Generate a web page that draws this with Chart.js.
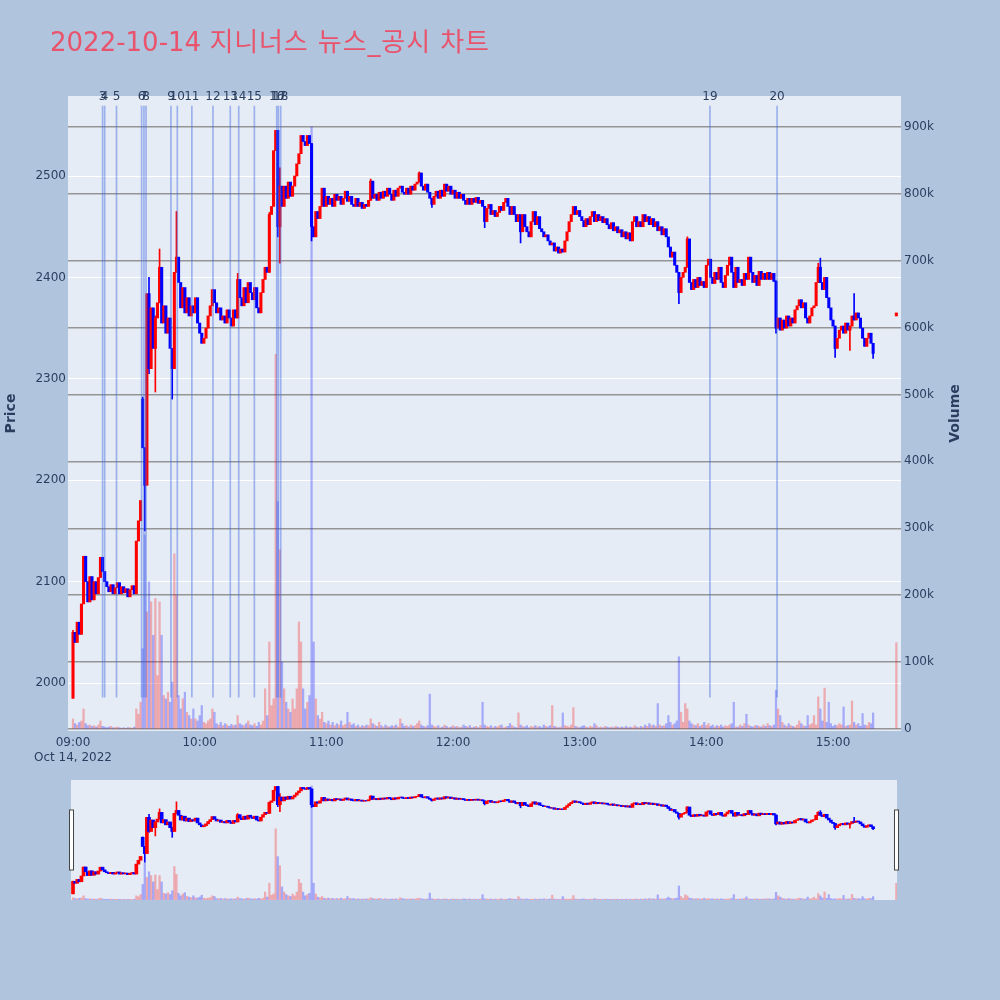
<!DOCTYPE html>
<html>
<head>
<meta charset="utf-8">
<script src="https://cdn.jsdelivr.net/npm/chart.js@4.4.1/dist/chart.umd.min.js"></script>
<style>
  html, body { margin: 0; padding: 0; background: #b0c4de; }
  #wrap { position: relative; width: 1000px; height: 1000px; overflow: hidden; }
  #mainChart { position: absolute; left: 0; top: 0; }
  #sliderChart { position: absolute; left: 0; top: 776px; }
  #title {
    position: absolute; left: 50px; top: 29px;
    font: 26px/26px "DejaVu Sans", "Noto Sans CJK KR", sans-serif;
    color: #e9536b; white-space: nowrap;
  }
  #title span { letter-spacing: 0.9px; }
</style>
</head>
<body>
<div id="wrap">
  <canvas id="mainChart" width="1000" height="770"></canvas>
  <canvas id="sliderChart" width="1000" height="130"></canvas>
  <div id="title">2022-10-14 <span>지니너스 뉴스_공시 차트</span></div>
</div>
<script>

// one candle per minute, index = minutes after 09:00
const firstOpen = 1985;

const closes = [
  2050, 2040, 2060, 2048, 2078, 2125, 2100, 2080, 2105, 2082,
  2100, 2088, 2104, 2124, 2110, 2100, 2095, 2090, 2097, 2088,
  2094, 2099, 2088, 2095, 2089, 2093, 2085, 2092, 2096, 2088,
  2140, 2160, 2180, 2232, 2195, 2384, 2310, 2370, 2330, 2360,
  2375, 2410, 2355, 2372, 2345, 2360, 2330, 2310, 2405, 2420,
  2395, 2370, 2390, 2365, 2380, 2362, 2372, 2365, 2380, 2355,
  2345, 2335, 2340, 2350, 2362, 2372, 2388, 2375, 2365, 2370,
  2358, 2362, 2355, 2368, 2360, 2352, 2368, 2360, 2398, 2380,
  2372, 2390, 2375, 2395, 2385, 2378, 2390, 2370, 2365, 2385,
  2398, 2410, 2405, 2462, 2470, 2525, 2545, 2450, 2490, 2470,
  2490, 2478, 2494, 2480, 2490, 2500, 2512, 2522, 2540, 2534,
  2530, 2540, 2532, 2450, 2440, 2465, 2458, 2470, 2488, 2470,
  2480, 2472, 2478, 2470, 2482, 2476, 2480, 2472, 2478, 2485,
  2475, 2480, 2472, 2470, 2478, 2470, 2474, 2468, 2472, 2470,
  2476, 2495, 2478, 2482, 2476, 2484, 2478, 2485, 2480, 2488,
  2482, 2476, 2486, 2480, 2488, 2490, 2484, 2482, 2488, 2482,
  2490, 2486, 2492, 2494, 2503, 2490, 2486, 2492, 2484, 2478,
  2472, 2480, 2485, 2478, 2486, 2480, 2492, 2485, 2490, 2482,
  2486, 2478, 2484, 2478, 2482, 2476, 2472, 2478, 2472, 2478,
  2474, 2479, 2473, 2476, 2470, 2455, 2468, 2472, 2462, 2466,
  2460, 2464, 2470, 2466, 2474, 2478, 2470, 2462, 2470, 2462,
  2455, 2462, 2445, 2462, 2450, 2445, 2440, 2455, 2465, 2452,
  2460, 2448, 2445, 2440, 2442, 2436, 2432, 2434, 2426, 2430,
  2424, 2428, 2425, 2436, 2445, 2455, 2462, 2470, 2462, 2466,
  2460, 2456, 2450, 2458, 2452, 2460, 2465, 2455, 2462, 2456,
  2460, 2454, 2458, 2452, 2448, 2454, 2446, 2450, 2444, 2447,
  2440, 2445, 2438, 2444, 2436, 2455, 2460, 2450, 2455, 2450,
  2462, 2455, 2460, 2452, 2458, 2450, 2455, 2446, 2450, 2442,
  2448, 2440, 2430, 2420, 2425, 2412, 2405, 2385, 2400, 2405,
  2410, 2438, 2395, 2388, 2398, 2390, 2400, 2392, 2396, 2390,
  2412, 2418, 2400, 2394, 2405, 2398, 2410, 2395, 2390, 2402,
  2412, 2420, 2405, 2390, 2410, 2395, 2398, 2392, 2404, 2398,
  2420, 2405, 2395, 2402, 2392, 2406, 2398, 2404, 2398, 2405,
  2398, 2404, 2396, 2350, 2360, 2348, 2358, 2350, 2362, 2352,
  2360, 2355, 2368, 2372, 2378, 2370, 2375, 2360, 2355, 2362,
  2370, 2372, 2395, 2410, 2395, 2388, 2400, 2380, 2370, 2358,
  2352, 2330, 2340, 2348, 2352, 2345, 2355, 2348, 2352, 2362,
  2358, 2365, 2360, 2350, 2340, 2332, 2340, 2345, 2335, 2325
];

// [minute, open] where the candle did not open at the previous close
const openGaps = [[33, 2280]];

// [minute, low, high] for candles with visible shadows
const wicks = [
  [0, 1985, 2052], [33, 2232, 2282], [34, 2150, 2232], [36, 2305, 2400],
  [39, 2287, 2362], [41, 2375, 2428], [47, 2280, 2330], [49, 2405, 2465],
  [78, 2360, 2404], [93, 2405, 2464], [97, 2440, 2545], [98, 2414, 2508],
  [113, 2436, 2532], [141, 2476, 2497], [164, 2494, 2504], [170, 2469, 2478],
  [195, 2449, 2470], [212, 2434, 2455], [287, 2374, 2405], [291, 2410, 2440],
  [333, 2345, 2397], [353, 2395, 2414], [354, 2395, 2419], [361, 2321, 2352],
  [368, 2328, 2352], [370, 2358, 2384], [379, 2320, 2335]
];

// volume in thousands of shares, same minutes as closes
const volumesK = [
  15, 8, 6, 10, 12, 30, 8, 5, 6, 4,
  5, 3, 6, 12, 4, 3, 2, 3, 4, 2,
  2, 3, 2, 1, 2, 1, 2, 2, 1, 3,
  30, 22, 40, 120, 290, 175, 220, 190, 140, 195,
  80, 190, 140, 50, 45, 55, 40, 70, 262, 200,
  50, 30, 45, 55, 25, 20, 15, 30, 15, 12,
  20, 35, 10, 8, 12, 15, 30, 25, 8, 6,
  10, 5, 8, 6, 4, 7, 5, 6, 20, 8,
  6, 5, 8, 12, 6, 5, 8, 4, 10, 6,
  12, 60, 20, 130, 35, 45, 560, 340, 268, 100,
  60, 40, 30, 25, 45, 30, 60, 160, 130, 60,
  30, 40, 50, 900, 130, 45, 20, 15, 25, 10,
  8, 12, 6, 10, 5, 8, 6, 12, 5, 7,
  25, 10, 6, 8, 4, 6, 3, 5, 4, 6,
  5, 15, 8, 6, 4, 10, 5, 3, 6, 4,
  3, 5, 4, 6, 3, 15, 8, 4, 5, 3,
  6, 4, 5, 8, 12, 6, 4, 3, 5, 52,
  6, 4, 3, 5, 2, 3, 6, 4, 2, 3,
  5, 3, 4, 2, 3, 6, 4, 3, 5, 2,
  3, 4, 2, 5, 40, 6, 4, 3, 5, 2,
  4, 3, 5, 6, 2, 3, 4, 8, 5, 3,
  2, 24, 6, 4, 3, 5, 2, 4, 3, 5,
  3, 4, 2, 6, 4, 3, 5, 35, 4, 3,
  2, 3, 24, 5, 4, 3, 6, 32, 4, 3,
  2, 4, 5, 3, 2, 4, 3, 8, 5, 2,
  3, 2, 4, 3, 2, 3, 2, 4, 3, 2,
  3, 2, 4, 2, 3, 2, 5, 3, 2, 4,
  3, 6, 4, 8, 5, 6, 4, 38, 6, 4,
  5, 8, 20, 10, 6, 8, 12, 108, 25, 10,
  38, 30, 12, 8, 6, 5, 8, 4, 6, 10,
  5, 8, 4, 6, 3, 5, 4, 6, 3, 5,
  4, 6, 8, 40, 3, 3, 6, 4, 8, 22,
  6, 4, 3, 5, 5, 4, 3, 6, 4, 8,
  5, 4, 6, 58, 30, 20, 10, 6, 4, 8,
  5, 4, 3, 6, 12, 8, 5, 4, 20, 6,
  8, 20, 6, 48, 30, 12, 61, 10, 40, 8,
  4, 6, 5, 8, 6, 33, 4, 5, 6, 42,
  10, 6, 8, 4, 23, 6, 5, 10, 8, 24
];

// 15:30 closing auction
const auctionMinute = 390;
const auctionOpen = 2362;
const auctionClose = 2365;
const auctionVolumeK = 129;

// news / disclosure markers (minutes after 09:00)
const newsLabels = ['3', '4', '5', '6', '7', '8', '9', '10', '11', '12',
  '13', '14', '15', '16', '17', '18', '19', '20'];
const newsMinutes = [14.0, 15.0, 20.6, 32.5, 33.6, 34.6, 46.4, 49.4, 56.3, 66.3,
  74.5, 78.5, 85.9, 96.5, 97.3, 98.4, 301.7, 333.5];

const hourTicks = [0, 60, 120, 180, 240, 300, 360];
const hourLabels = ['09:00', '10:00', '11:00', '12:00', '13:00', '14:00', '15:00'];
const dateLabel = 'Oct 14, 2022';
const priceTicks = [2000, 2100, 2200, 2300, 2400, 2500];
const volumeTicks = [0, 100, 200, 300, 400, 500, 600, 700, 800, 900];

const UP = '#ff0000';
const DOWN = '#0000ff';
const FONT = '"DejaVu Sans", "Noto Sans CJK KR", sans-serif';
const TEXT = '#2a3f5f';
const PRICE_MIN = 1952.7, PRICE_MAX = 2578.9;
const VOL_MIN = -3, VOL_MAX = 946;
const NEWS_LOW = 1986, NEWS_HIGH = 2569;

Chart.defaults.font.family = FONT;
Chart.defaults.font.size = 12;
Chart.defaults.color = TEXT;

const candles = closes.map((c, i) => ({
  x: i,
  o: i === 0 ? firstOpen : closes[i - 1],
  c: c
}));
openGaps.forEach(([m, o]) => { candles[m].o = o; });
candles.push({ x: auctionMinute, o: auctionOpen, c: auctionClose });

const volumes = volumesK.concat([auctionVolumeK]);

function candleColor(k) {
  return k.c > k.o ? UP : DOWN;
}

function priceDatasets(bodyWidth) {

  return [
    {
      label: 'body',
      data: candles.map(k => ({ x: k.x, y: [k.o, k.c] })),
      backgroundColor: candles.map(candleColor),
      barThickness: bodyWidth,
      grouped: false,
      yAxisID: 'y',
      order: 1
    },
    {
      label: 'wick',
      data: wicks.map(([m, lo, hi]) => ({ x: m, y: [lo, hi] })),
      backgroundColor: wicks.map(([m]) => candleColor(candles[m])),
      barThickness: 1,
      grouped: false,
      yAxisID: 'y',
      order: 2
    },
    {
      label: 'volume',
      data: candles.map((k, i) => ({ x: k.x, y: volumes[i] })),
      backgroundColor: candles.map(k =>
        k.c > k.o ? 'rgba(255,0,0,0.28)' : 'rgba(0,0,255,0.28)'
      ),
      barThickness: 1.6,
      grouped: false,
      yAxisID: 'vol',
      order: 3
    }
  ];
}

const plotBackground = {
  id: 'plotBackground',
  beforeDraw(chart) {
    const a = chart.chartArea;
    const ctx = chart.ctx;
    ctx.save();
    ctx.fillStyle = '#e5ecf6';
    ctx.fillRect(a.left, a.top, a.right - a.left, a.bottom - a.top);
    ctx.restore();
  }
};

const newsText = {
  id: 'newsText',
  afterDatasetsDraw(chart) {
    const ctx = chart.ctx;
    const xs = chart.scales.x;
    ctx.save();
    ctx.font = '12px ' + FONT;
    ctx.fillStyle = TEXT;
    ctx.textAlign = 'center';
    ctx.textBaseline = 'middle';
    newsMinutes.forEach((t, i) => {
      ctx.fillText(newsLabels[i], xs.getPixelForValue(t), 97);
    });
    ctx.restore();
  }
};

const axisTitles = {
  id: 'axisTitles',
  afterDraw(chart) {
    const ctx = chart.ctx;
    const a = chart.chartArea;
    const midY = (a.top + a.bottom) / 2;
    ctx.save();
    ctx.font = 'bold 14px ' + FONT;
    ctx.fillStyle = TEXT;
    ctx.textAlign = 'center';
    ctx.textBaseline = 'alphabetic';
    [['Price', 15], ['Volume', 959]].forEach(([txt, x]) => {
      ctx.save();
      ctx.translate(x, midY);
      ctx.rotate(-Math.PI / 2);
      ctx.fillText(txt, 0, 0);
      ctx.restore();
    });
    ctx.restore();
  }
};

const mainDatasets = priceDatasets(2.4);
mainDatasets.push({
  label: 'news',
  data: newsMinutes.map(t => ({ x: t, y: [NEWS_LOW, NEWS_HIGH] })),
  backgroundColor: 'rgba(65,105,225,0.45)',
  barThickness: 1,
  grouped: false,
  yAxisID: 'y',
  order: 0
});

new Chart(document.getElementById('mainChart'), {

  type: 'bar',

  data: { datasets: mainDatasets },

  options: {

    responsive: false,
    animation: false,
    devicePixelRatio: 1,
    layout: { padding: { top: 96, left: 0, right: 0, bottom: 0 } },

    plugins: {
      legend: { display: false },
      tooltip: { enabled: false }
    },

    scales: {

      x: {
        type: 'linear',
        offset: false,
        min: -2.37,
        max: 392.2,
        afterFit: s => { s.height = 39; },
        afterBuildTicks: s => { s.ticks = hourTicks.map(v => ({ value: v })); },
        grid: { display: false, drawTicks: false },
        border: { display: false },
        ticks: {
          padding: 5,
          maxRotation: 0,
          autoSkip: false,
          callback: (v) => {
            const i = hourTicks.indexOf(v);
            return i === 0 ? [hourLabels[0], dateLabel] : hourLabels[i];
          }
        }
      },

      y: {
        position: 'left',
        min: PRICE_MIN,
        max: PRICE_MAX,
        afterFit: s => { s.width = 68; },
        afterBuildTicks: s => { s.ticks = priceTicks.map(v => ({ value: v })); },
        grid: { color: '#ffffff', lineWidth: 1, drawTicks: false },
        border: { display: false },
        ticks: { padding: 2, callback: v => String(v) }
      },

      vol: {
        position: 'right',
        min: VOL_MIN,
        max: VOL_MAX,
        afterFit: s => { s.width = 99; },
        afterBuildTicks: s => { s.ticks = volumeTicks.map(v => ({ value: v })); },
        grid: { color: '#959595', lineWidth: 1.5, drawTicks: false },
        border: { display: false },
        ticks: {
          padding: 3,
          callback: v => v === 0 ? '0' : v + 'k'
        }
      }

    }

  },

  plugins: [plotBackground, newsText, axisTitles]

});

const sliderHandles = {
  id: 'sliderHandles',
  afterDraw(chart) {
    const a = chart.chartArea;
    const ctx = chart.ctx;
    const h = (a.bottom - a.top) / 2;
    const y = a.top + h / 2;
    ctx.save();
    ctx.fillStyle = '#ffffff';
    ctx.strokeStyle = '#444444';
    ctx.lineWidth = 1;
    [a.left - 1.5, a.right - 2.5].forEach(x => {
      ctx.fillRect(x, y, 4, h);
      ctx.strokeRect(x, y, 4, h);
    });
    ctx.restore();
  }
};

new Chart(document.getElementById('sliderChart'), {

  type: 'bar',

  data: { datasets: priceDatasets(3) },

  options: {

    responsive: false,
    animation: false,
    devicePixelRatio: 1,
    layout: { padding: { top: 4, left: 71, right: 103, bottom: 6 } },

    plugins: {
      legend: { display: false },
      tooltip: { enabled: false }
    },

    scales: {
      x: { type: 'linear', offset: false, min: -0.95, max: 390.3, display: false },
      y: { min: PRICE_MIN, max: PRICE_MAX, display: false },
      vol: { min: VOL_MIN, max: VOL_MAX, display: false }
    }

  },

  plugins: [plotBackground, sliderHandles]

});

</script>
</body>
</html>
